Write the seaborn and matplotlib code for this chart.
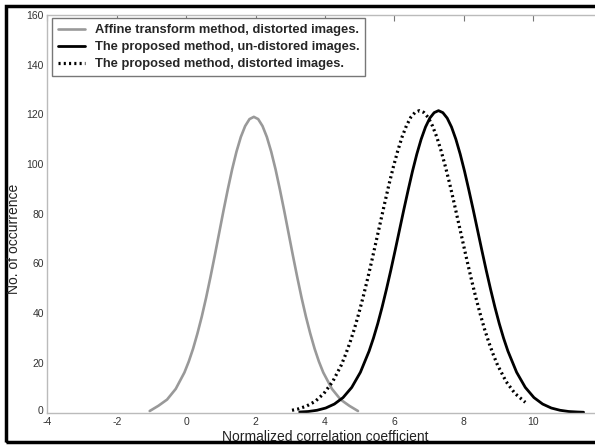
import matplotlib
matplotlib.use("Agg")
import matplotlib.pyplot as plt
import matplotlib.transforms as mtrans
import seaborn as sns
import pandas as pd
from matplotlib.patches import Rectangle

# ---- data ----
affine_x = [-1.05, -0.8, -0.55, -0.3, -0.05, 0.075, 0.2, 0.325, 0.45, 0.575, 0.7, 0.825,
            0.95, 1.075, 1.2, 1.325, 1.45, 1.575, 1.7, 1.825, 1.95, 2.075, 2.2, 2.325,
            2.45, 2.575, 2.7, 2.825, 2.95, 3.075, 3.2, 3.325, 3.45, 3.575, 3.7, 3.825,
            3.95, 4.2, 4.45, 4.7, 4.95]
affine_y = [0.6, 2.7, 5.2, 9.5, 16.1, 20.5, 25.7, 31.8, 38.6, 46.2, 54.5, 63.2,
            72.2, 81.2, 89.8, 97.9, 105.0, 110.9, 115.3, 118.1, 119.0, 118.1, 115.3, 110.9,
            105.0, 97.9, 89.8, 81.2, 72.2, 63.2, 54.5, 46.2, 38.6, 31.8, 25.7, 20.5,
            16.1, 9.5, 5.2, 2.7, 0.6]

undist_x = [3.27, 3.52, 3.77, 4.02, 4.27, 4.52, 4.77, 5.02, 5.27, 5.395, 5.52, 5.645,
            5.77, 5.895, 6.02, 6.145, 6.27, 6.395, 6.52, 6.645, 6.77, 6.895, 7.02, 7.145,
            7.27, 7.395, 7.52, 7.645, 7.77, 7.895, 8.02, 8.145, 8.27, 8.395, 8.52, 8.645,
            8.77, 8.895, 9.02, 9.145, 9.27, 9.52, 9.77, 10.02, 10.27, 10.52, 10.77, 11.02,
            11.27, 11.45]
undist_y = [0.2, 0.4, 0.9, 1.8, 3.4, 6.0, 10.1, 16.2, 24.7, 29.9, 35.8, 42.4,
            49.6, 57.2, 65.2, 73.4, 81.6, 89.5, 97.1, 104.0, 110.0, 114.9, 118.5, 120.7,
            121.5, 120.7, 118.5, 114.9, 110.0, 104.0, 97.1, 89.5, 81.6, 73.4, 65.2, 57.2,
            49.6, 42.4, 35.8, 29.9, 24.7, 16.2, 10.1, 6.0, 3.4, 1.8, 0.9, 0.4,
            0.2, 0.1]

dist_x = [3.05, 3.22, 3.47, 3.72, 3.97, 4.22, 4.47, 4.595, 4.72, 4.845, 4.97, 5.095,
          5.22, 5.345, 5.47, 5.595, 5.72, 5.845, 5.97, 6.095, 6.22, 6.345, 6.47, 6.595,
          6.72, 6.845, 6.97, 7.095, 7.22, 7.345, 7.47, 7.595, 7.72, 7.845, 7.97, 8.095,
          8.22, 8.345, 8.47, 8.595, 8.72, 8.845, 8.97, 9.22, 9.47, 9.77]
dist_y = [0.9, 1.4, 2.6, 4.5, 7.7, 12.4, 19.1, 23.4, 28.2, 33.6, 39.7, 46.3,
          53.4, 60.9, 68.7, 76.5, 84.3, 91.9, 98.9, 105.3, 110.9, 115.4, 118.8, 120.8,
          121.5, 120.8, 118.8, 115.4, 110.9, 105.3, 98.9, 91.9, 84.3, 76.5, 68.7, 60.9,
          53.4, 46.3, 39.7, 33.6, 28.2, 23.4, 19.1, 12.4, 7.7, 4.1]

labels = ["Affine transform method, distorted images.",
          "The proposed method, un-distored images.",
          "The proposed method, distorted images."]
x_ticks = [-4, -2, 0, 2, 4, 6, 8, 10]
y_ticks = [0, 20, 40, 60, 80, 100, 120, 140, 160]

sns.set_style("white")
plt.rcParams['font.family'] = ['Liberation Sans', 'DejaVu Sans']

fig = plt.figure(figsize=(5.95, 4.47), dpi=100)
W, H = 595, 447
ax = fig.add_axes([47.3 / W, (H - 412.5) / H, (602.7 - 47.3) / W, (412.5 - 15) / H])

df_a = pd.DataFrame({"x": affine_x, "y": affine_y})
df_u = pd.DataFrame({"x": undist_x, "y": undist_y})
df_d = pd.DataFrame({"x": dist_x, "y": dist_y})

sns.lineplot(data=df_a, x="x", y="y", ax=ax, color="#999999", lw=1.9, label=labels[0],
             sort=False, estimator=None)
sns.lineplot(data=df_u, x="x", y="y", ax=ax, color="black", lw=2.0, label=labels[1],
             sort=False, estimator=None)
sns.lineplot(data=df_d, x="x", y="y", ax=ax, color="black", lw=2.3, label=labels[2],
             sort=False, estimator=None)
for ln in ax.lines:
    ln.set_solid_joinstyle("round")
ax.lines[2].set_linestyle((0, (0.65, 1.0)))
ax.lines[2].set_dash_capstyle("butt")

ax.set_xlim(-4, 12)
ax.set_ylim(0, 160)
ax.set_xticks(x_ticks)
ax.set_yticks(y_ticks)
ax.set_xticklabels([str(t) for t in x_ticks])
ax.set_yticklabels([str(t) for t in y_ticks])
ax.tick_params(direction="in", length=4, width=0.8, color="#777777",
               labelsize=7.5, labelcolor="#333333", top=True, right=True)
ax.tick_params(axis="x", pad=3.5)
ax.tick_params(axis="y", pad=2.5)
# lift the "0" y-label slightly, as in the reference
lbl0 = ax.get_yticklabels()[0]
lbl0.set_transform(lbl0.get_transform() + mtrans.ScaledTranslation(0, 2 / 72, fig.dpi_scale_trans))
for s in ax.spines.values():
    s.set_color("#bbbbbb")
    s.set_linewidth(1.0)
ax.set_xlabel("Normalized correlation coefficient", fontsize=10, color="#222222", labelpad=2)
ax.set_ylabel("")
fig.text(14 / W, (H - 239) / H, "No. of occurrence", rotation=90, fontsize=10,
         color="#222222", ha="center", va="center")

leg = ax.legend(loc="upper left", bbox_to_anchor=(0.008, 0.992), borderaxespad=0,
                fancybox=False, framealpha=1, edgecolor="#777777",
                prop={"weight": "bold", "size": 9.3}, handlelength=2.1,
                handletextpad=0.8, labelspacing=0.4, borderpad=0.45)
leg.get_frame().set_linewidth(1.0)

# outer border of the figure (right side lies beyond the cropped edge)
fig.patches.append(Rectangle((6 / W, (H - 442) / H), 1.2, (442 - 6) / H,
                             transform=fig.transFigure, fill=False,
                             edgecolor="black", linewidth=2.5))

fig.savefig("out.png", dpi=100)
